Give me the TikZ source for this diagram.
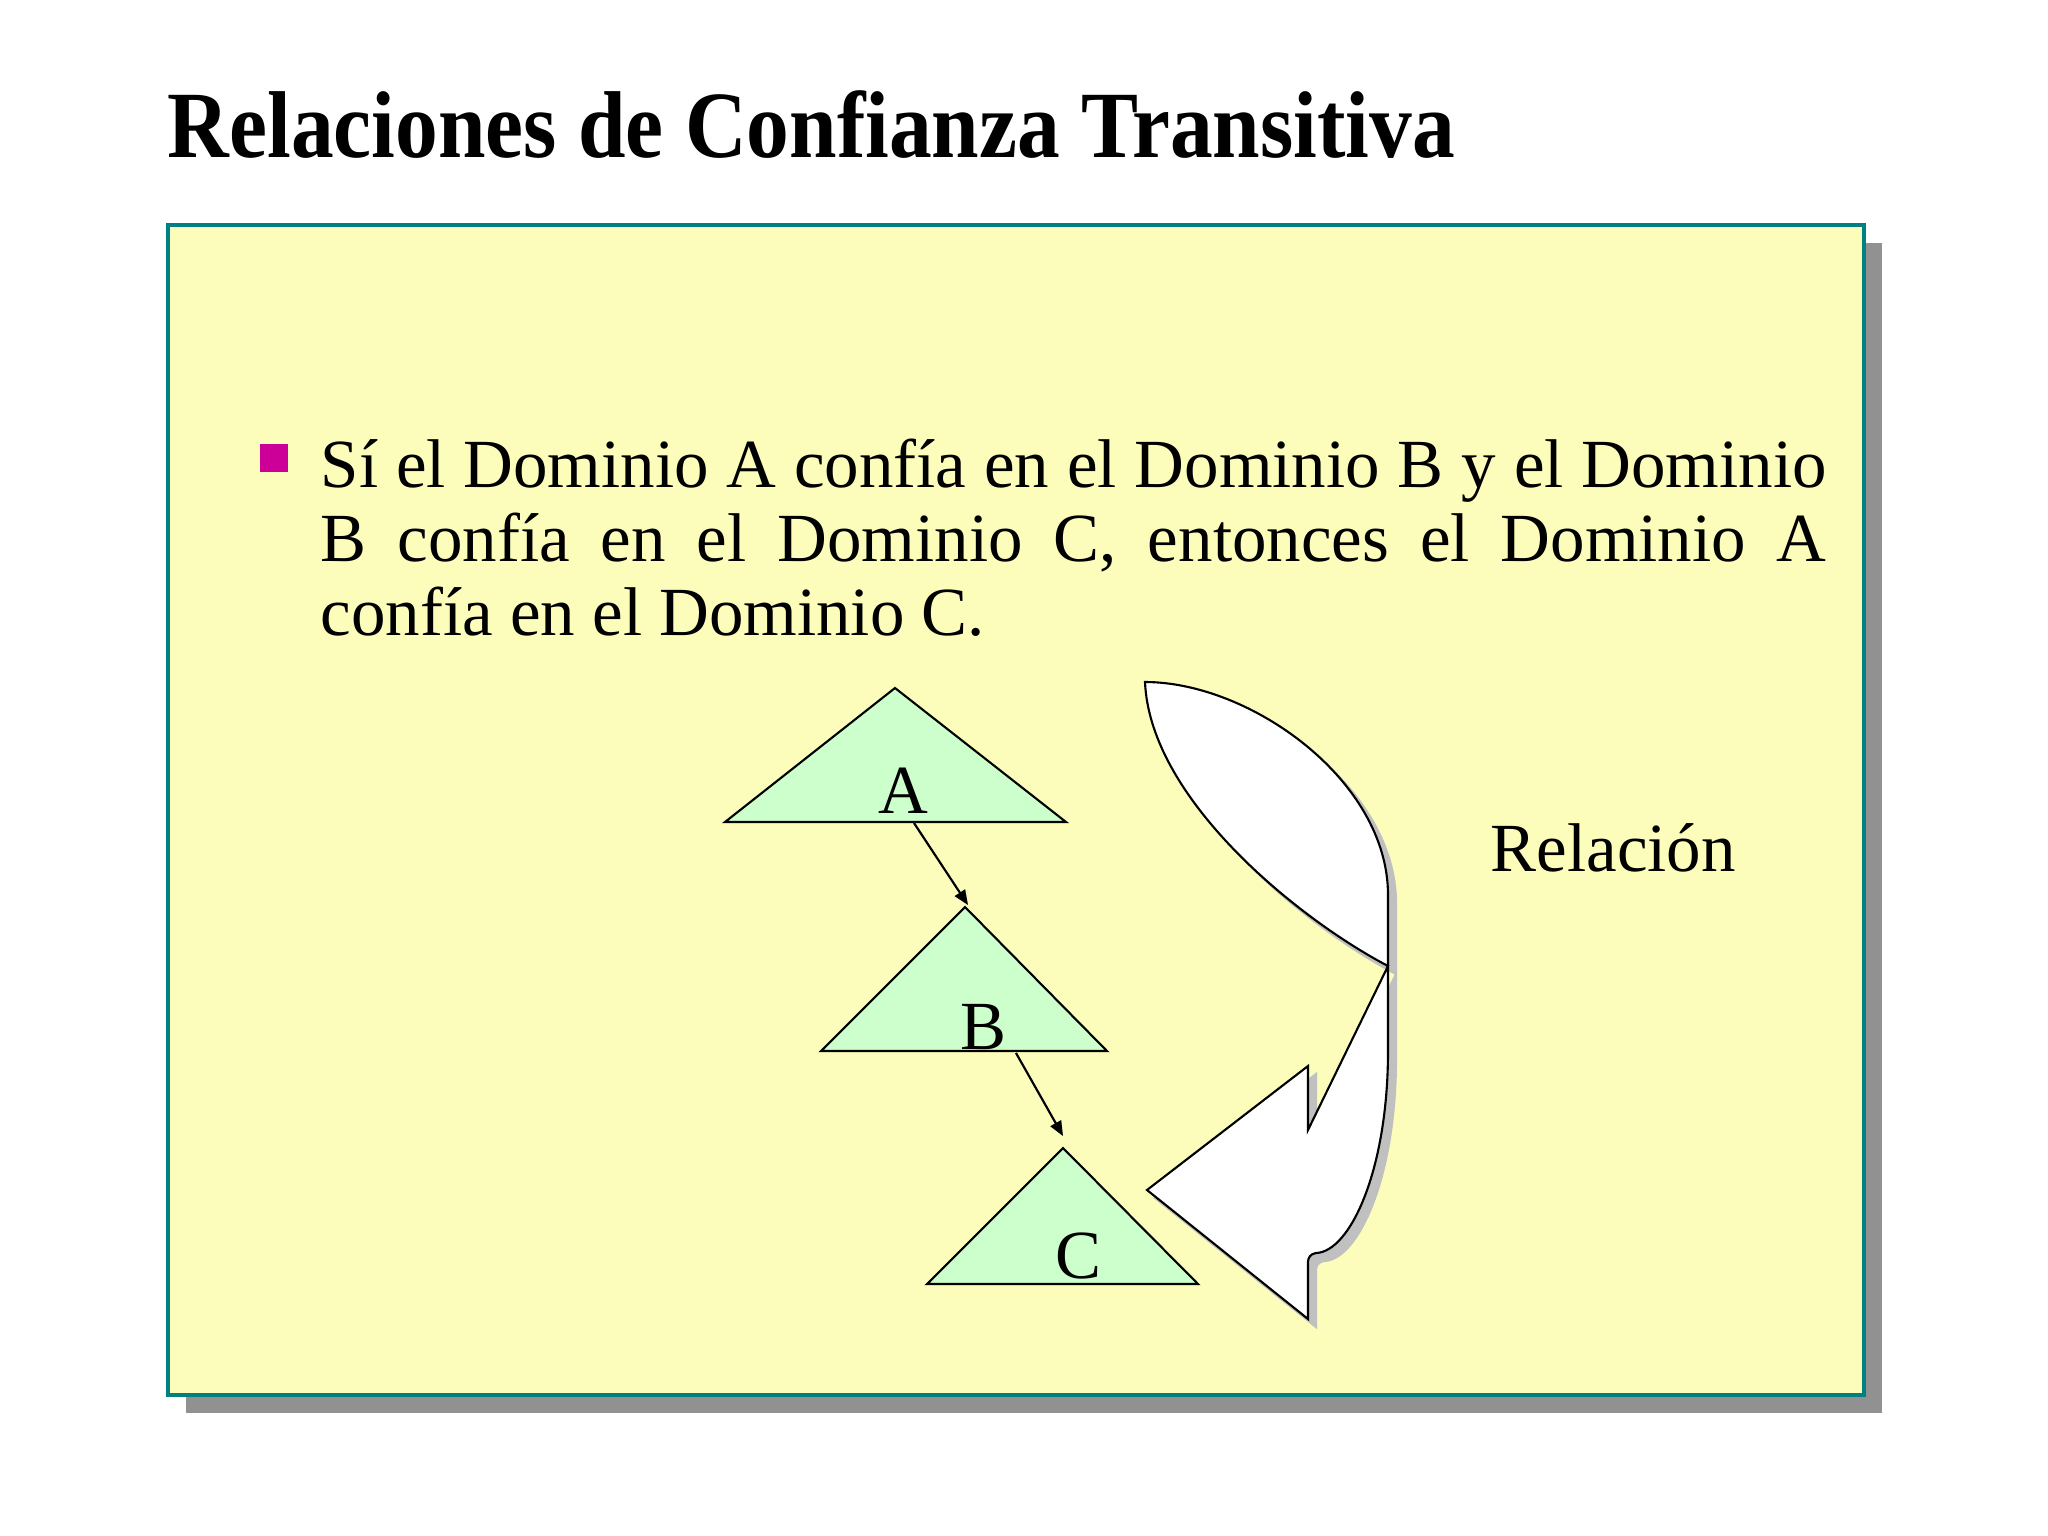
\documentclass[tikz,border=0pt]{standalone}
\usepackage{fontspec}
\setmainfont{Liberation Serif}
\newfontfamily\titlefont{Liberation Serif}[FakeStretch=0.9]
\usetikzlibrary{arrows.meta}

\begin{document}
\begin{tikzpicture}[x=0.01cm, y=-0.01cm] % one unit is one pixel of the slide, y runs down
    % Define colors
    \definecolor{panel}{RGB}{252,252,187}
    \definecolor{frame}{RGB}{0,128,128}
    \definecolor{panelgray}{RGB}{145,145,145}
    \definecolor{softgray}{RGB}{192,192,192}
    \definecolor{leaf}{RGB}{204,255,204}
    \definecolor{bulletpink}{RGB}{204,0,153}

    \tikzset{
        tri/.style={fill=leaf, draw=black, line width=0.6pt},
        letter/.style={anchor=base, inner sep=0, font=\fontsize{19.6pt}{21pt}\selectfont},
        link/.style={line width=0.6pt, -{Triangle[length=4.2pt, width=3.4pt]}}
    }

    \useasboundingbox[fill=white] (0,0) rectangle (2048,1536);

    % Title of the slide
    \node[anchor=base west, inner sep=0, font=\titlefont\bfseries\fontsize{27pt}{30pt}\selectfont] (title) at (167,157) {Relaciones de Confianza Transitiva};

    % Yellow panel with its shadow
    \fill[panelgray] (186,243) rectangle (1882,1413);
    \filldraw[fill=panel, draw=frame, line width=0.9pt] (168,225) rectangle (1864,1395);

    % Bullet and the statement
    \fill[bulletpink] (260,444) rectangle (288,472);
    \node[anchor=base west, inner sep=0, text width=15.05cm, align=justify,
          font=\fontsize{19.6pt}{21.05pt}\selectfont] (rule) at (320,487)
        {Sí el Dominio A confía en el Dominio B y el Dominio\linebreak
         B confía en el Dominio C, entonces el Dominio A\linebreak
         confía en el Dominio C.};

    % The three domains as triangles
    \foreach \n/\l/\t/\r/\top/\base in {A/725/895/1066/688/822, B/821/965/1107/907/1051, C/927/1063/1198/1148/1284} {
        \coordinate (\n apex) at (\t,\top);
        \filldraw[tri] (\l,\base) -- (\n apex) -- (\r,\base) -- cycle;
    }

    % Letters on the triangles
    \node[letter] (A) at (903,813) {A};
    \node[letter] (B) at (983,1049) {B};
    \node[letter] (C) at (1078,1278) {C};

    % Trust links A -> B -> C
    \coordinate (Aroot) at (914,823);
    \coordinate (Broot) at (1016,1053);
    \coordinate (Bend) at (968,905);
    \coordinate (Cend) at (1063,1136);
    \draw[link, softgray, shift={(5,4)}] (Aroot) -- (Bend);
    \draw[link, softgray, shift={(5,4)}] (Broot) -- (Cend);
    \draw[link] (Aroot) -- (Bend);
    \draw[link] (Broot) -- (Cend);

    % Big curved arrow (shadow first)
    \foreach \dx/\col/\edge in {8/softgray/softgray, 0/white/black} {
        \filldraw[fill=\col, draw=\edge, line width=0.6pt, shift={(\dx,\dx)}]
            (1145,682) .. controls (1250,682) and (1388,780) .. (1388,895)
            -- (1388,1051)
            .. controls (1388,1170) and (1350,1252) .. (1316,1253)
            .. controls (1310,1254) and (1308,1258) .. (1308,1262)
            -- (1308,1319) -- (1147,1190) -- (1308,1066) -- (1308,1130) -- (1388,966)
            .. controls (1300,920) and (1150,800) .. (1145,682) -- cycle;
    }

    % Caption
    \node[anchor=base west, inner sep=0, font=\fontsize{19.6pt}{21pt}\selectfont] (relacion) at (1490,871) {Relación};

\end{tikzpicture}
\end{document}
